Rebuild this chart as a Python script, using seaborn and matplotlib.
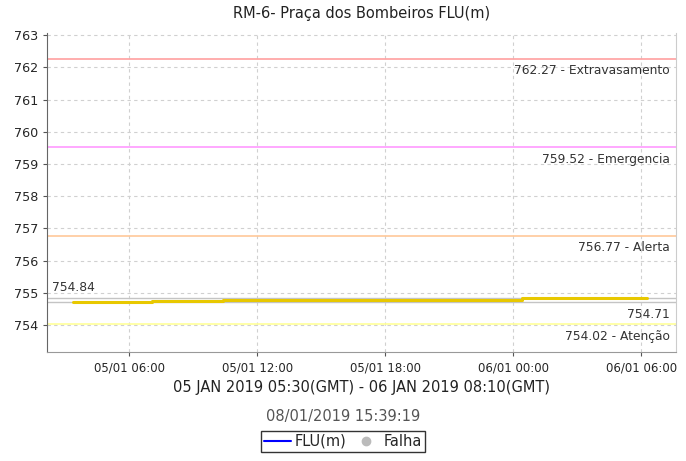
import seaborn as sns
import matplotlib.pyplot as plt
import matplotlib.dates as mdates
from matplotlib.lines import Line2D
import pandas as pd

# data (local time)
times = ['2019-01-05 03:22', '2019-01-05 07:05', '2019-01-05 10:25',
         '2019-01-06 00:25', '2019-01-06 06:17']
levels = [754.71, 754.74, 754.78, 754.84, 754.84]

level_max = 754.84
level_min = 754.71

thresholds = [762.27, 759.52, 756.77, 754.02]
threshold_names = ['Extravasamento', 'Emergencia', 'Alerta', 'Atenção']
threshold_colors = ['#ffa0a0', '#ff99ff', '#ffc899', '#ffff99']

x_ticks = ['2019-01-05 06:00', '2019-01-05 12:00', '2019-01-05 18:00',
           '2019-01-06 00:00', '2019-01-06 06:00']

df = pd.DataFrame({'time': pd.to_datetime(times), 'FLU(m)': levels})

sns.set_style('white')
plt.rcParams['font.family'] = ['DejaVu Sans']

fig = plt.figure(figsize=(6.86, 4.61), dpi=100)
ax = fig.add_axes([0.0685, 0.236, 0.917, 0.692])

# thresholds
for val, name, col in zip(thresholds, threshold_names, threshold_colors):
    ax.axhline(val, color=col, lw=1.2, zorder=2)
    ax.text(0.99, val - 0.17, f'{val:.2f} - {name}', transform=ax.get_yaxis_transform(),
            ha='right', va='top', fontsize=8.8, color='#333333')

# max / min lines
ax.axhline(level_max, color='#c4c4c4', lw=1, zorder=2)
ax.axhline(level_min, color='#c4c4c4', lw=1, zorder=2)
ax.text(0.008, level_max + 0.14, f'{level_max:.2f}', transform=ax.get_yaxis_transform(),
        ha='left', va='bottom', fontsize=8.8, color='#333333')
ax.text(0.99, level_min - 0.17, f'{level_min:.2f}', transform=ax.get_yaxis_transform(),
        ha='right', va='top', fontsize=8.8, color='#333333')

sns.lineplot(data=df, x='time', y='FLU(m)', ax=ax, color='#e8c800', lw=2.2,
             drawstyle='steps-post', zorder=3)

ax.set_xlim(pd.Timestamp('2019-01-05 02:09'), pd.Timestamp('2019-01-06 07:38'))
ax.set_ylim(753.16, 763.06)
ax.set_yticks(range(754, 764))
ax.set_xticks(pd.to_datetime(x_ticks))
ax.xaxis.set_major_formatter(mdates.DateFormatter('%d/%m %H:%M'))
ax.tick_params(axis='both', labelsize=8.5, length=3, color='#555555', left=True, bottom=True)
ax.tick_params(axis='y', labelsize=9.2)
ax.grid(True, ls=(0, (3, 3)), color='#d0d0d0', lw=0.8)

ax.spines['top'].set_visible(False)
ax.spines['left'].set_color('#666666')
ax.spines['bottom'].set_color('#999999')
ax.spines['right'].set_color('#cccccc')

ax.set_ylabel('')
ax.set_xlabel('05 JAN 2019 05:30(GMT) - 06 JAN 2019 08:10(GMT)', fontsize=10.5,
              color='#222222', labelpad=4)
ax.set_title('RM-6- Praça dos Bombeiros FLU(m)', fontsize=10.5, color='#222222', pad=11)

fig.text(0.5, 0.097, '08/01/2019 15:39:19', ha='center', va='center', fontsize=10.5,
         color='#555555')

handles = [Line2D([], [], color='blue', lw=1.5),
           Line2D([], [], marker='o', color='#bbbbbb', lw=0, markersize=6)]
leg = fig.legend(handles, ['FLU(m)', 'Falha'], loc='center', bbox_to_anchor=(0.5, 0.043),
                 ncol=2, frameon=True, fontsize=10.5, handlelength=1.8, handletextpad=0.3,
                 columnspacing=0.4, borderpad=0.2, fancybox=False, borderaxespad=0)
leg.get_frame().set_edgecolor('black')
leg.get_frame().set_linewidth(1)

plt.savefig('out.png', dpi=100)
